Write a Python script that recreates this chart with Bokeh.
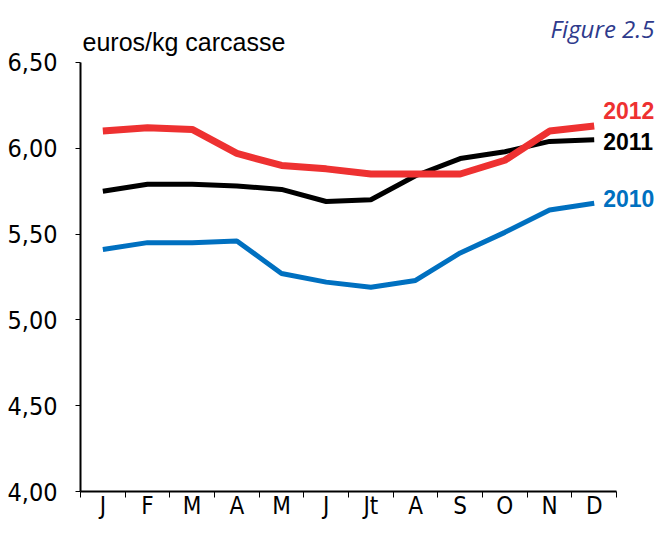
from bokeh.plotting import figure
from bokeh.models import Range1d, FixedTicker, Label, CustomJSTickFormatter
from bokeh.embed import file_html
from bokeh.resources import INLINE

months = ["J", "F", "M", "A", "M", "J", "Jt", "A", "S", "O", "N", "D"]
y2010 = [5.41, 5.45, 5.45, 5.46, 5.27, 5.22, 5.19, 5.23, 5.39, 5.51, 5.64, 5.68]
y2011 = [5.75, 5.79, 5.79, 5.78, 5.76, 5.69, 5.70, 5.84, 5.94, 5.98, 6.04, 6.05]
y2012 = [6.10, 6.12, 6.11, 5.97, 5.90, 5.88, 5.85, 5.85, 5.85, 5.93, 6.10, 6.13]
y_ticks = [4.0, 4.5, 5.0, 5.5, 6.0, 6.5]
unit_label = "euros/kg carcasse"
fig_label = "Figure 2.5"

RED = "#EE3131"
BLACK = "#000000"
BLUE = "#0070C0"
NARROW = "'DejaVu Sans Condensed', 'Liberation Sans Narrow', sans-serif"

x = list(range(len(months)))
y_lo, y_hi = y_ticks[0], y_ticks[-1]

# frame covers the whole width/top so that the side texts are not clipped;
# axis bounds keep the axis lines to the data area
p = figure(width=655, height=522, output_backend="svg", toolbar_location=None,
           x_range=Range1d(-0.5, 12.372), y_range=Range1d(y_lo, 6.861),
           min_border_left=80, min_border_right=0, min_border_top=0,
           min_border_bottom=31)
p.outline_line_color = None
p.grid.visible = False
p.background_fill_color = "white"
p.border_fill_color = "white"

xa = p.xaxis[0]
xa.bounds = (-0.5, len(months) - 0.5)
xa.ticker = FixedTicker(ticks=x, minor_ticks=[i - 0.5 for i in range(len(months) + 1)])
xa.major_label_overrides = {i: m for i, m in zip(x, months)}
xa.axis_line_width = 2
xa.axis_line_color = "black"
xa.major_tick_out = 0
xa.major_tick_in = 0
xa.minor_tick_out = 6
xa.minor_tick_in = 0
xa.minor_tick_line_width = 1
xa.major_label_standoff = -6
xa.major_label_text_font = NARROW
xa.major_label_text_font_size = "24px"
xa.major_label_text_color = "black"

ya = p.yaxis[0]
ya.bounds = (y_lo, y_hi)
ya.ticker = FixedTicker(ticks=y_ticks)
ya.formatter = CustomJSTickFormatter(code="return tick.toFixed(2).replace('.', ',');")
ya.axis_line_width = 2
ya.axis_line_color = "black"
ya.major_tick_out = 5
ya.major_tick_in = 0
ya.minor_tick_out = 0
ya.minor_tick_in = 0
ya.major_label_standoff = 18
ya.major_label_text_font = NARROW
ya.major_label_text_font_size = "25px"
ya.major_label_text_color = "black"

p.line(x, y2010, line_color=BLUE, line_width=5)
p.line(x, y2011, line_color=BLACK, line_width=5)
p.line(x, y2012, line_color=RED, line_width=7)

for vals, col, txt, dy in [(y2012, RED, "2012", 15), (y2011, BLACK, "2011", -2),
                           (y2010, BLUE, "2010", 5)]:
    p.add_layout(Label(x=x[-1], y=vals[-1], x_offset=9, y_offset=dy, text=txt,
                       text_font="Liberation Sans", text_font_style="bold",
                       text_font_size="23px", text_color=col,
                       text_baseline="middle", text_align="left"))

p.add_layout(Label(x=-0.5, y=y_hi, x_offset=2, y_offset=20, text=unit_label,
                   text_font="Liberation Sans", text_font_size="25px",
                   text_color="black", text_baseline="alphabetic"))
p.add_layout(Label(x=len(months) - 0.5, y=y_hi, x_offset=38, y_offset=34, text=fig_label,
                   text_font="Open Sans", text_font_style="italic",
                   text_font_size="24px", text_color="#2E3A8C",
                   text_baseline="alphabetic", text_align="right"))

open("out.html", "w").write(file_html(p, INLINE))
